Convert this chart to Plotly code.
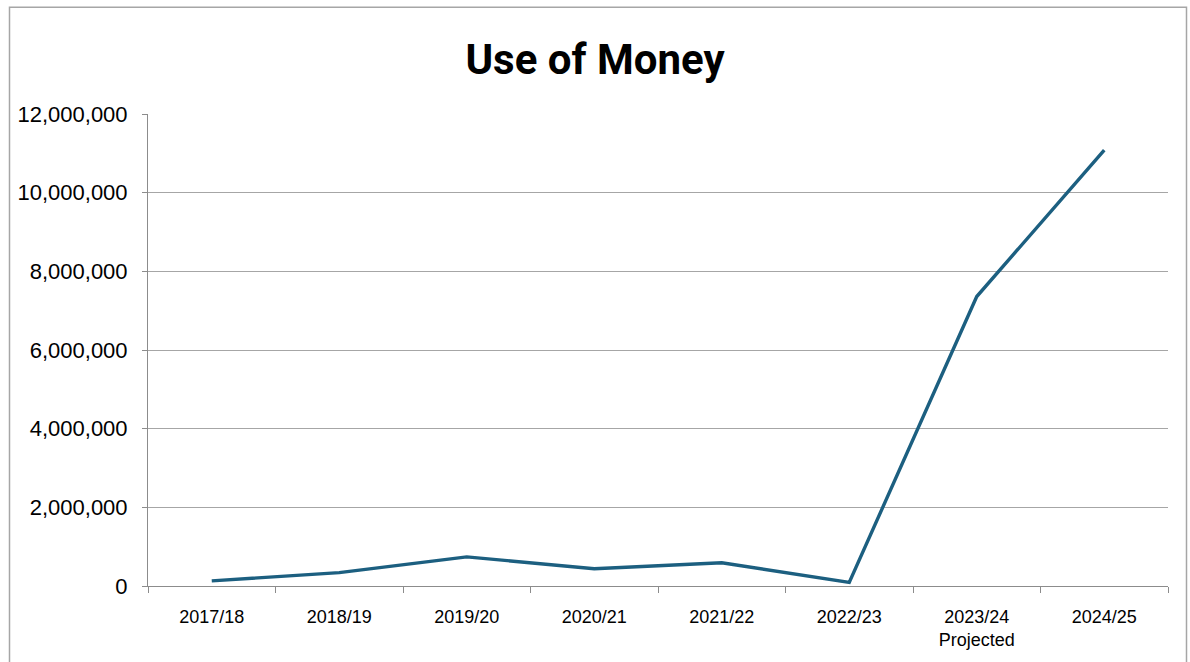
import plotly.graph_objects as go

categories = ["2017/18", "2018/19", "2019/20", "2020/21", "2021/22", "2022/23", "2023/24", "2024/25"]
tick_labels = ["2017/18", "2018/19", "2019/20", "2020/21", "2021/22", "2022/23", "2023/24<br>Projected", "2024/25"]
values = [130000, 340000, 740000, 440000, 590000, 90000, 7360000, 11080000]
y_ticks = [0, 2000000, 4000000, 6000000, 8000000, 10000000, 12000000]
y_tick_labels = ["0", "2,000,000", "4,000,000", "6,000,000", "8,000,000", "10,000,000", "12,000,000"]

W, H = 1190, 662
L, R, T, B = 148, 22, 114, 73
pw, ph = W - L - R, H - T - B

def px(x):
    return (x - L) / pw

def py(y):
    return (H - B - y) / ph

fig = go.Figure()
fig.add_trace(go.Scatter(
    x=categories, y=values, mode="lines",
    line=dict(color="#1c5f80", width=3.4),
    hoverinfo="x+y", showlegend=False,
))

fig.update_layout(
    width=W, height=H,
    margin=dict(l=L, r=R, t=T, b=B),
    paper_bgcolor="white", plot_bgcolor="white",
    title=dict(text="<b>Use of Money</b>", x=0.5, xanchor="center",
               y=1 - 59 / H, yanchor="middle",
               font=dict(family="Roboto", size=42, color="black")),
    font=dict(family="Liberation Sans", color="black"),
    xaxis=dict(
        type="category", tickmode="array", tickvals=categories, ticktext=tick_labels,
        tickson="boundaries", ticks="outside", ticklen=6, tickcolor="#8c8c8c",
        showline=True, linecolor="#8c8c8c", linewidth=1,
        showgrid=False, tickfont=dict(size=18, family="Liberation Sans"),
        ticklabelstandoff=14,
        range=[-0.5, 7.5], fixedrange=True,
    ),
    yaxis=dict(
        range=[0, 12000000], tickmode="array", tickvals=y_ticks, ticktext=y_tick_labels,
        ticks="outside", ticklen=5, tickcolor="#8c8c8c",
        showline=True, linecolor="#8c8c8c", linewidth=1,
        showgrid=True, gridcolor="#a6a6a6", gridwidth=1,
        zeroline=False, tickfont=dict(size=22, family="Liberation Sans"),
        ticklabelstandoff=10,
        fixedrange=True,
    ),
    shapes=[dict(type="rect", xref="paper", yref="paper",
                 x0=px(9.5), x1=px(1186.5), y0=py(690), y1=py(6.5),
                 line=dict(color="#a6a6a6", width=1.5), fillcolor="rgba(0,0,0,0)",
                 layer="below")],
)

fig.write_html("out.html", config={"displayModeBar": False},
               post_script="document.body.style.margin='0';")
